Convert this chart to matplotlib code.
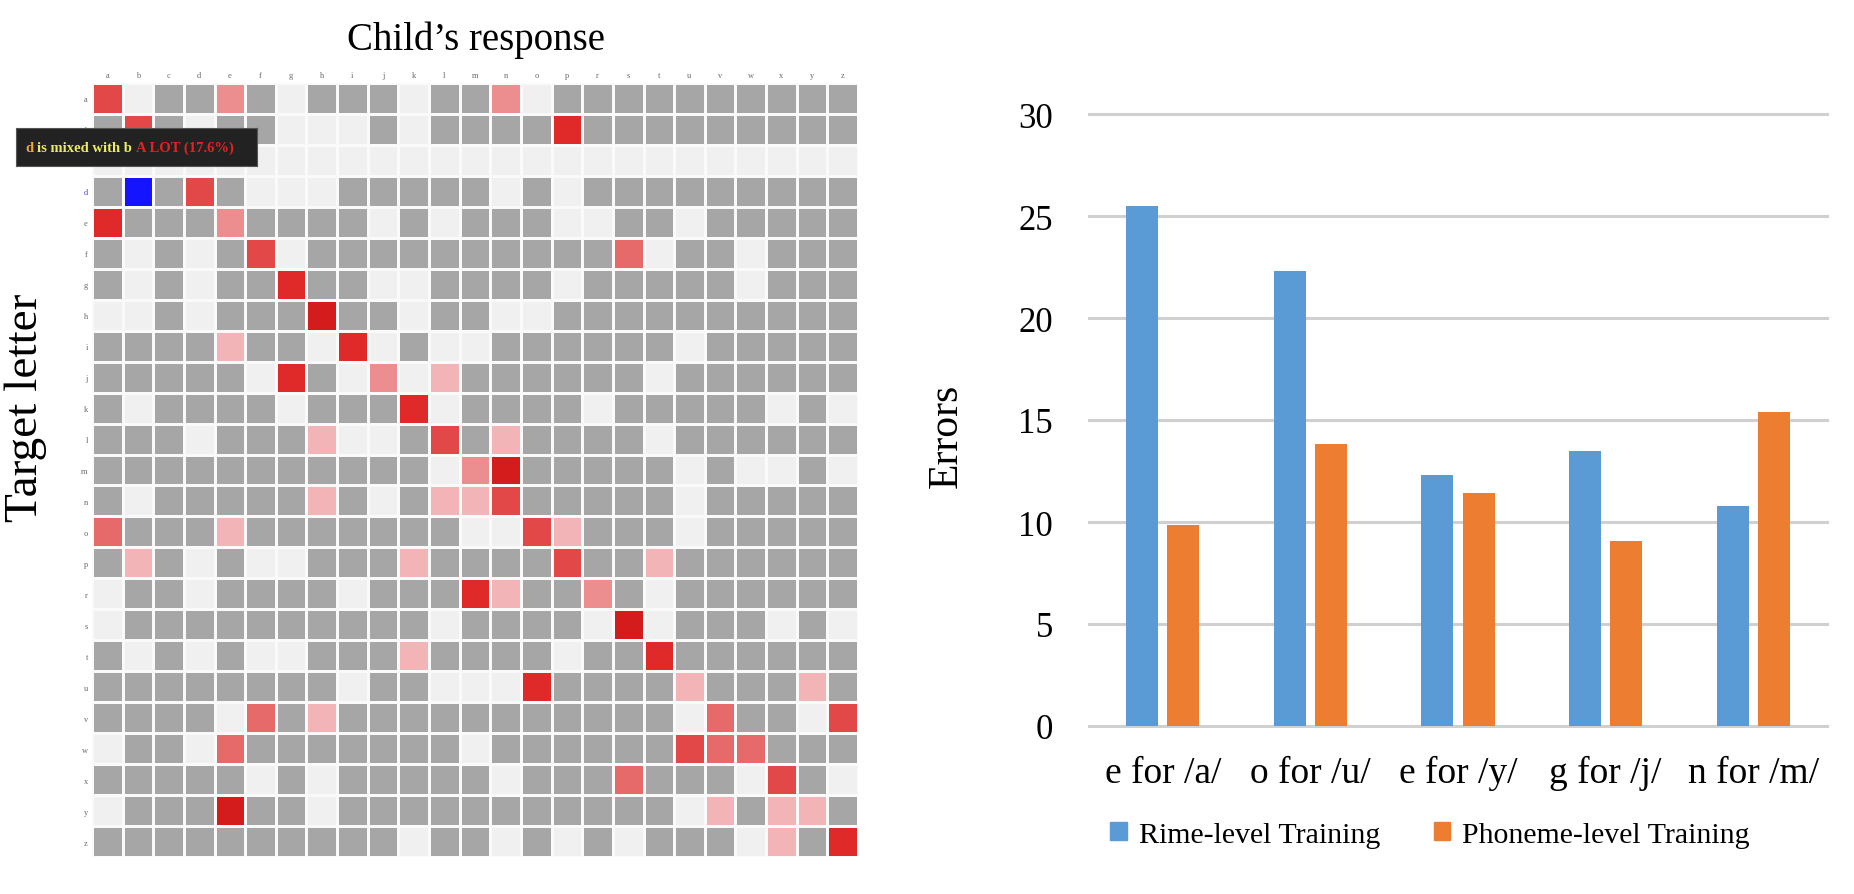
import numpy as np
import matplotlib
matplotlib.use("Agg")
import matplotlib.pyplot as plt
from matplotlib.colors import ListedColormap
from matplotlib.patches import Patch

plt.rcParams['font.family'] = ['Liberation Serif', 'DejaVu Serif']

#%% data
letters = list("abcdefghijklmnoprstuvwxyz")   # no q in the matrix

# cell codes: L light, G gray, 1..6 red shades (pale -> dark), B blue (selected)
matrix_rows = [
    "4LGG2GLGGGLGG2LGGGGGGGGGG",  # a
    "G4GLGGLLLGLGGGG5GGGGGGGGG",  # b
    "LLLLLLLLLLLLLLLLLLLLLLLLL",  # c
    "GBG4GLLLGGGGGLGLGGGGGGGGG",  # d
    "5GGG2GGGGLGLGGGLLGGLGGGGG",  # e
    "GLGLG4LGGGGGGGGGG3LGGLGGG",  # f
    "GLGLGG5GGLLGGGGLGGGGGLGGG",  # g
    "LLGLGGG6GGLGGLLGGGGGGGGGG",  # h
    "GGGG1GGL5LGLLGGGGGGLGGGGG",  # i
    "GGGGGL5GL2L1GGGGGGLGGGGGG",  # j
    "GLGGGGLGGG5LGGGGLGGGGGLGL",  # k
    "GGGLGGG1LLG4G1GGGGLGGGGGG",  # l
    "GGGGGGGGGGGL26GGGGGLGLLGL",  # m
    "GLGGGGG1GLG114GGGGGLGGGGG",  # n
    "3GGG1GGGGGGGLL41GGGLGGGGG",  # o
    "G1GLGLLGGG1GGGG4GG1GGGGGG",  # p
    "LGGLGGGGLGGG51GG2GLGGGGGG",  # r
    "LGGGGGGGGGGLGGGGL6LGGGLGL",  # s
    "GLGLGLLGGG1GGGGLGG5GGGGGG",  # t
    "GGGGGGGGLGGLLL5GGGG1GGG1G",  # u
    "GGGGL3G1GGGGGGGGGGGL3GGL4",  # v
    "LGGL3GGGGGGGLGGGGGG433GGG",  # w
    "GGGGGLGLGGGGGLGGG3GGGL4GL",  # x
    "LGGG6GGLGGGGGGGGGGGL1G11G",  # y
    "GGGGGGGGGGLGGLGLGLGGGL1G5",  # z
]
codes = ['L', 'G', '1', '2', '3', '4', '5', '6', 'B']
code_colors = ['#f0f0f0', '#a6a6a6', '#f2b4b6', '#ec8e90', '#e66a6a',
               '#e24848', '#e02a2a', '#d41c1c', '#1414ff']

tooltip_parts = [("d ", '#f0a830'), ("is mixed with b ", '#ecec60'),
                 ("A LOT (17.6%)", '#e82020')]

categories = ['e for /a/', 'o for /u/', 'e for /y/', 'g for /j/', 'n for /m/']
rime = [25.5, 22.3, 12.3, 13.5, 10.8]
phoneme = [9.85, 13.8, 11.4, 9.05, 15.4]
yticks = [0, 5, 10, 15, 20, 25, 30]

#%% figure
W, H = 1854, 895
fig = plt.figure(figsize=(W / 100, H / 100), dpi=100)

def box(x0, y0, x1, y1):
    # pixel box (top-left origin) -> figure fraction rect
    return [x0 / W, 1 - y1 / H, (x1 - x0) / W, (y1 - y0) / H]

#%% confusion matrix
ax = fig.add_axes(box(92, 84, 858, 858))
M = np.array([[codes.index(c) for c in row] for row in matrix_rows])
cmap = ListedColormap(code_colors)
ax.pcolormesh(M, cmap=cmap, vmin=-0.5, vmax=len(codes) - 0.5,
              edgecolors='#fafafa', linewidth=2.0)
ax.set_xlim(0, len(letters))
ax.set_ylim(len(letters), 0)
ax.set_xticks(np.arange(len(letters)) + 0.5)
ax.set_yticks(np.arange(len(letters)) + 0.5)
ax.set_xticklabels(letters, fontsize=6, color='#666666')
ax.set_yticklabels(letters, fontsize=6, color='#666666')
ax.get_xticklabels()[1].set_color('#4444dd')
ax.get_yticklabels()[3].set_color('#4444dd')
ax.xaxis.tick_top()
ax.tick_params(length=0, pad=3)
for s in ax.spines.values():
    s.set_visible(False)

fig.text(476 / W, 1 - 50 / H, "Child\u2019s response", fontsize=28,
         ha='center', va='baseline')
fig.text(26 / W, 1 - 408 / H, "Target letter", fontsize=34, rotation=90,
         ha='center', va='center')

# tooltip box
tip = fig.add_axes(box(16, 129, 257, 167))
tip.set_facecolor('#222222')
tip.set_xticks([])
tip.set_yticks([])
for s in tip.spines.values():
    s.set_color('#555555')
x = 0.04
r = fig.canvas.get_renderer()
for txt, col in tooltip_parts:
    t = tip.text(x, 0.5, txt, color=col, fontsize=10.5, fontweight='bold',
                 ha='left', va='center', transform=tip.transAxes)
    bb = t.get_window_extent(renderer=r)
    x += bb.width / 241

#%% bar chart
bx = fig.add_axes(box(1089, 115, 1827, 727))
xpos = np.arange(len(categories))
bw = 0.217
bx.bar(xpos - 0.139, rime, bw, color='#5b9bd5', label='Rime-level Training',
       zorder=3)
bx.bar(xpos + 0.139, phoneme, bw, color='#ed7d31',
       label='Phoneme-level Training', zorder=3)
bx.set_xlim(-0.5, len(categories) - 0.5)
bx.set_ylim(0, 30)
bx.set_yticks(yticks)
bx.set_yticklabels([str(v) for v in yticks], fontsize=25)
bx.set_xticks(xpos)
bx.set_xticklabels(categories, fontsize=27)
bx.tick_params(length=0)
bx.tick_params(axis='y', pad=26)
bx.tick_params(axis='x', pad=21)
for v in yticks:
    bx.axhline(v, color='#d0d0d0', linewidth=2.2, zorder=1, clip_on=False)
for s in bx.spines.values():
    s.set_visible(False)

fig.text(946 / W, 1 - 436 / H, "Errors", fontsize=30, rotation=90,
         ha='center', va='center')

handles = [Patch(color='#5b9bd5', label='Rime-level Training'),
           Patch(color='#ed7d31', label='Phoneme-level Training')]
fig.legend(handles=handles, loc='center', ncol=2, frameon=False,
           bbox_to_anchor=(1430 / W, 1 - 836 / H), fontsize=21.5,
           handlelength=0.55, handleheight=0.55, columnspacing=1.8,
           handletextpad=0.4)

plt.savefig("out.png", dpi=100)
